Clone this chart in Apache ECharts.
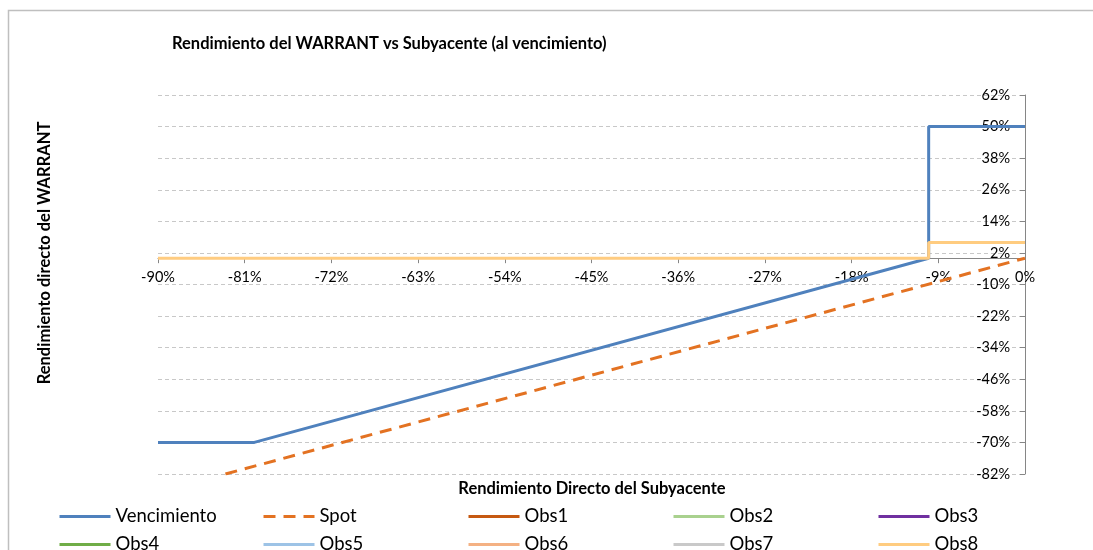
<!DOCTYPE html>
<html>
<head>
<meta charset="utf-8">
<title>Rendimiento del WARRANT vs Subyacente</title>
<script src="https://cdn.jsdelivr.net/npm/echarts@6/dist/echarts.min.js"></script>
<style>
  html, body { margin: 0; padding: 0; background: #fff; }
  #chart { width: 1093px; height: 550px; }
</style>
</head>
<body>
<div id="chart"></div>
<script>
// datos (en %)
const vencimiento = [[-90, -70], [-80, -70], [-10, 0], [-10, 50], [0, 50]]
const spot = [[-83, -82], [0, 0]]
const obs1 = []
const obs2 = []
const obs3 = []
const obs4 = []
const obs5 = []
const obs6 = []
const obs7 = []
const obs8 = [[-90, 0], [-10, 0], [-10, 6], [0, 6]]

const seriesNames = ['Vencimiento', 'Spot', 'Obs1', 'Obs2', 'Obs3', 'Obs4', 'Obs5', 'Obs6', 'Obs7', 'Obs8']
const seriesData = [vencimiento, spot, obs1, obs2, obs3, obs4, obs5, obs6, obs7, obs8]
const seriesColors = ['#4F81BD', '#E37222', '#C65911', '#A9D18E', '#7030A0', '#70AD47', '#9DC3E6', '#F4B183', '#C9C9C9', '#FFCC80']

// ejes
const xMin = -90, xMax = 0, xStep = 9
const yMin = -82, yMax = 62, yStep = 12

const FONT = 'Lato'

const chart = echarts.init(document.getElementById('chart'), null, { renderer: 'canvas' })

const gridTop = 95, gridBottom = 76
const plotH = 550 - gridTop - gridBottom
// el eje X cruza en y = 0, se sube desde el borde inferior
const zeroFromBottom = (0 - yMin) / (yMax - yMin) * plotH

const series = seriesNames.map((name, i) => ({
  name: name,
  type: 'line',
  data: seriesData[i],
  symbol: 'none',
  clip: true,
  lineStyle: {
    color: seriesColors[i],
    width: 3,
    type: name === 'Spot' ? [12, 8] : 'solid'
  },
  itemStyle: { color: seriesColors[i] },
  z: 2 + i
}))

// una leyenda por elemento para colocarlas en rejilla 5x2
const legendCols = [58, 262, 467, 672, 877]
const legendRows = [515, 543]
const legends = seriesNames.map((name, i) => ({
  data: [name],
  left: legendCols[i % 5] - 5,
  top: legendRows[Math.floor(i / 5)] - 13,
  itemWidth: 51,
  itemHeight: 16,
  selectedMode: false,
  itemStyle: { color: 'rgba(0,0,0,0)', borderWidth: 0 },
  lineStyle: { width: 3 },
  textStyle: { fontFamily: FONT, fontSize: 18.5, color: '#000' }
}))

const option = {
  animation: false,
  title: {
    text: 'Rendimiento del WARRANT vs Subyacente (al vencimiento)',
    left: 167,
    top: 30,
    textStyle: { fontFamily: FONT, fontWeight: 'bold', fontSize: 16.5, color: '#000' }
  },
  legend: legends,
  grid: { left: 158, right: 68, top: gridTop, bottom: gridBottom, containLabel: false },
  xAxis: {
    type: 'value',
    min: xMin,
    max: xMax,
    interval: xStep,
    position: 'bottom',
    offset: -zeroFromBottom,
    axisLine: { onZero: false, lineStyle: { color: '#868686', width: 1 } },
    axisTick: { show: true, length: 5, lineStyle: { color: '#868686' } },
    axisLabel: { formatter: v => v + '%', margin: 12, fontFamily: FONT, fontSize: 14.5, color: '#000' },
    splitLine: { show: false }
  },
  yAxis: {
    type: 'value',
    position: 'right',
    min: yMin,
    max: yMax,
    interval: yStep,
    axisLine: { show: true, onZero: false, lineStyle: { color: '#868686', width: 1 } },
    axisTick: { show: true, inside: true, length: 5, lineStyle: { color: '#868686' } },
    axisLabel: { align: 'right', formatter: v => v + '%', margin: -15, fontFamily: FONT, fontSize: 14.5, color: '#000' },
    splitLine: { show: true, lineStyle: { color: '#C8C8C8', type: [4, 3], width: 1 } }
  },
  graphic: [
    {
      type: 'rect',
      shape: { x: 8.5, y: 10.5, width: 1200, height: 700 },
      style: { fill: 'none', stroke: '#BFBFBF', lineWidth: 1.5 },
      silent: true
    },
    {
      type: 'text',
      x: 45,
      y: 253,
      rotation: Math.PI / 2,
      style: {
        text: 'Rendimiento directo del WARRANT',
        fontFamily: FONT, fontWeight: 'bold', fontSize: 16.5, fill: '#000',
        align: 'center', verticalAlign: 'middle'
      }
    },
    {
      type: 'text',
      x: 592,
      y: 489,
      style: {
        text: 'Rendimiento Directo del Subyacente',
        fontFamily: FONT, fontWeight: 'bold', fontSize: 16.5, fill: '#000',
        align: 'center', verticalAlign: 'middle'
      }
    }
  ],
  series: series
}

chart.setOption(option)
</script>
</body>
</html>
